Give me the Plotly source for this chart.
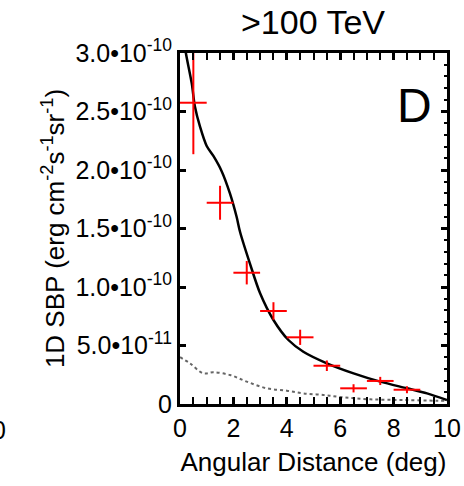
import plotly.graph_objects as go

# Data points (red crosses)
bin_x = [0.5, 1.5, 2.5, 3.5, 4.5, 5.5, 6.5, 7.5, 8.5]
bin_halfwidth = [0.5] * 9
sbp = [2.575e-10, 1.72e-10, 1.122e-10, 0.795e-10, 0.57e-10, 0.327e-10, 0.134e-10, 0.197e-10, 0.122e-10]
sbp_err = [0.44e-10, 0.145e-10, 0.1e-10, 0.075e-10, 0.065e-10, 0.045e-10, 0.035e-10, 0.035e-10, 0.03e-10]

# Model curve (solid black)
model_x = [0.15, 0.22, 0.44, 0.56, 0.75, 1.0, 1.25, 1.56, 1.87, 2.12, 2.25, 2.62, 3.0, 3.5, 4.06, 4.62, 5.5, 6.5, 7.5, 8.5, 9.25, 10.0]
model_y = [3.12e-10, 3.0e-10, 2.74e-10, 2.54e-10, 2.37e-10, 2.205e-10, 2.12e-10, 1.99e-10, 1.80e-10, 1.60e-10, 1.47e-10, 1.20e-10, 0.946e-10, 0.718e-10, 0.547e-10, 0.447e-10, 0.348e-10, 0.262e-10, 0.191e-10, 0.134e-10, 0.091e-10, 0.034e-10]

# Background curve (dotted grey)
bg_x = [0.0, 0.37, 0.87, 1.25, 1.87, 2.5, 3.25, 4.0, 4.62, 5.37, 6.12, 7.12, 8.37, 9.62, 10.0]
bg_y = [0.40e-10, 0.348e-10, 0.262e-10, 0.271e-10, 0.248e-10, 0.191e-10, 0.134e-10, 0.114e-10, 0.091e-10, 0.077e-10, 0.057e-10, 0.040e-10, 0.034e-10, 0.028e-10, 0.027e-10]

y_tickvals = [0, 0.5e-10, 1.0e-10, 1.5e-10, 2.0e-10, 2.5e-10, 3.0e-10]
y_ticktext = ["0", "5.0•10<sup>-11</sup>", "1.0•10<sup>-10</sup>", "1.5•10<sup>-10</sup>",
              "2.0•10<sup>-10</sup>", "2.5•10<sup>-10</sup>", "3.0•10<sup>-10</sup>"]
x_tickvals = [0, 2, 4, 6, 8, 10]

FONT = "Liberation Sans, Arial, sans-serif"

fig = go.Figure()
fig.add_trace(go.Scatter(x=bg_x, y=bg_y, mode="lines",
                         line=dict(color="#666666", width=2, dash="dot", shape="spline"),
                         hoverinfo="skip"))
fig.add_trace(go.Scatter(x=model_x, y=model_y, mode="lines",
                         line=dict(color="black", width=2.5, shape="spline", smoothing=0.8),
                         hoverinfo="skip"))
fig.add_trace(go.Scatter(x=bin_x, y=sbp, mode="markers",
                         marker=dict(size=1, color="red"),
                         error_x=dict(type="data", array=bin_halfwidth, color="red", thickness=2, width=0),
                         error_y=dict(type="data", array=sbp_err, color="red", thickness=2, width=0)))
# invisible trace for right axis
fig.add_trace(go.Scatter(x=[0], y=[0], mode="markers", marker=dict(opacity=0), yaxis="y2",
                         hoverinfo="skip"))

fig.update_layout(
    width=464, height=486,
    margin=dict(l=180, r=17, t=53, b=82, autoexpand=False),
    paper_bgcolor="white", plot_bgcolor="white",
    showlegend=False,
    font=dict(family=FONT, size=26, color="black"),
    title=dict(text=">100 TeV", x=313/464, xanchor="center", y=1 - 22/486, yanchor="middle",
               font=dict(size=34)),
    xaxis=dict(range=[0, 10], tickvals=x_tickvals, ticks="inside", ticklen=7, tickwidth=2.5,
               tickcolor="black", showline=True, linewidth=3, linecolor="black", mirror="allticks",
               showgrid=False, zeroline=False, automargin=False,
               minor=dict(dtick=0.5, ticks="inside", ticklen=4, tickwidth=2, tickcolor="black"),
               tickfont=dict(size=25),
               title=dict(text="Angular Distance (deg)", font=dict(size=26), standoff=12)),
    yaxis=dict(range=[0, 3.0e-10], tickvals=y_tickvals, ticktext=y_ticktext, ticks="inside",
               ticklen=6, tickwidth=3, tickcolor="black", showline=True, linewidth=3,
               linecolor="black", mirror=True, showgrid=False, zeroline=False, automargin=False,
               tickfont=dict(size=25),
               title=dict(text="1D SBP (erg cm<sup>-2</sup>s<sup>-1</sup>sr<sup>-1</sup>)",
                          font=dict(size=26), standoff=4)),
    yaxis2=dict(range=[0, 3.0e-10], overlaying="y", side="right", tickvals=y_tickvals,
                showticklabels=False, ticks="inside", ticklen=6, tickwidth=3, tickcolor="black",
                showgrid=False, zeroline=False, showline=False, automargin=False,
                minor=dict(dtick=0.1e-10, ticks="inside", ticklen=3, tickwidth=2, tickcolor="black")),
    annotations=[
        dict(text="D", x=0.88, y=0.85, xref="paper", yref="paper", xanchor="center",
             yanchor="middle", showarrow=False, font=dict(size=48)),
        dict(text="0", x=0, y=0, xref="paper", yref="paper", showarrow=False,
             font=dict(size=25)),
    ],
)
# neighbouring panel's stray '0', partly cut off at the left edge as in the reference
fig.layout.annotations[1].update(x=(8 - 180) / (464 - 180 - 17), y=(486 - 82 - 430) / (486 - 53 - 82),
                                 xanchor="right", yanchor="middle")

fig.write_html("out.html")
